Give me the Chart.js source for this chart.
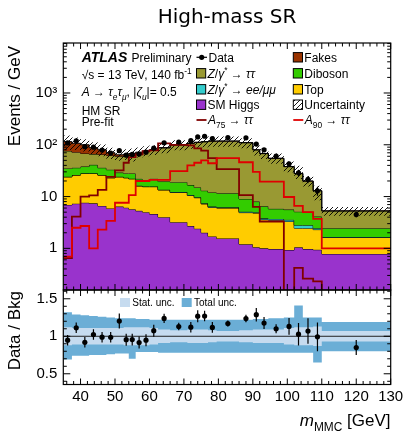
<!DOCTYPE html>
<html>
<head>
<meta charset="utf-8">
<title>High-mass SR</title>
<script src="https://cdn.jsdelivr.net/npm/chart.js"></script>
<style>
  html, body { margin:0; padding:0; background:#ffffff; }
  #wrap { position:relative; width:407px; height:432px; overflow:hidden; background:#fff; }
  #wrap canvas { position:absolute; left:0; top:0; }
</style>
</head>
<body>
<div id="wrap">
  <canvas id="mainCanvas" width="407" height="432"></canvas>
  <canvas id="ratioCanvas" width="407" height="432"></canvas>
</div>
<script>
// ---------------- data (Events / GeV per bin) ----------------
const binEdges = [35, 37.5, 40, 42.5, 45, 47.5, 50, 52.5, 54, 56, 58, 60, 62.5, 66, 71, 73, 75, 77, 79.5, 86, 90, 92, 94.5, 99, 102, 104.5, 107.5, 110, 130];
const smHiggs  = [6.9, 7.3, 7.6, 7.4, 6.6, 5.9, 6.4, 6.1, 5.7, 5.3, 5.0, 4.6, 4.0, 3.2, 2.7, 2.4, 2.0, 1.7, 1.55, 1.2, 1.05, 1.0, 0.97, 0.93, 1.05, 0.97, 0.94, 0.78];
const ttbar    = [17.1, 18.7, 20.4, 20.6, 19.4, 17.1, 17.6, 16.9, 16.3, 10.7, 10.5, 10.9, 9.4, 8.8, 7.8, 7.1, 5.2, 4.5, 4.45, 3.7, 3.75, 2.6, 2.53, 2.37, 1.4, 1.48, 1.36, 0.84];
const zll      = [0.2, 0.2, 0.2, 0.2, 0.2, 0.2, 0.2, 0.2, 0.2, 0.2, 0.2, 0.2, 0.2, 0.2, 0.2, 0.2, 0.2, 0.2, 0.2, 0.2, 0.2, 0.2, 0.2, 0.25, 0.35, 0.35, 0.15, 0.03];
const diboson  = [10.8, 9.8, 9.8, 12.8, 9.8, 9.8, 4.8, 4.8, 5.8, 5.8, 5.3, 6.3, 5.9, 6.8, 6.0, 5.3, 5.6, 5.6, 5.4, 3.9, 3.0, 2.7, 2.1, 2.05, 2.3, 2.3, 1.65, 0.8];
const ztautau  = [41, 36, 30, 25, 29, 29, 31, 34, 36.5, 47, 52.5, 56, 67.5, 80, 89.3, 96, 101, 105, 105.9, 100.5, 71.5, 61, 48.7, 32.2, 22.7, 14.7, 8.8, 2.82];
const fakes    = [39, 35, 32, 22, 15, 8, 4, 4, 3.5, 3, 2.5, 2, 1, 1, 1, 1, 1, 1, 0.5, 0.5, 0.5, 0.5, 0.5, 0.2, 0.2, 0.2, 0.1, 0.03];
const signalA75 = [0.65, 4.1, 10, 10.5, 13.5, 24, 32, 45, 58, 65, 75, 78, 106, 100, 97, 85, 77, 55, 34, 10.7, 6.3, 3.3, 3.3, 0, 0.42, 0.26, 0.23, 0];
const signalA90 = [0.69, 2.5, 2.7, 1.0, 2.3, 3.4, 7.6, 7.6, 10.7, 20, 20, 21, 21, 31, 40, 45, 50, 44, 55, 46, 30, 19.5, 19.5, 9.8, 6.6, 5.0, 3.7, 1.0];
const dataVals = [109, 119, 92, 90, 79, 69, 77, 63, 65, 66, 72, 86, 109, 113, 120, 142, 146, 132, 138, 136, 103, 80, 60.5, 43, 28.8, 21.4, 12.9, 4.5];
const dataErr  = [8, 7.5, 7, 6.2, 5.6, 4.9, 6.4, 5.3, 5.4, 5.8, 6.1, 6.4, 5.3, 5, 7.5, 9, 8, 8.3, 4.7, 5.5, 7.2, 5.4, 3.3, 4.2, 4.2, 3.4, 2.5, 0.53];
// relative background uncertainties
const totUncUp = [0.32, 0.29, 0.28, 0.27, 0.26, 0.25, 0.24, 0.24, 0.24, 0.23, 0.23, 0.22, 0.22, 0.22, 0.22, 0.22, 0.22, 0.22, 0.22, 0.22, 0.23, 0.23, 0.24, 0.25, 0.41, 0.25, 0.25, 0.19];
const totUncDn = [0.31, 0.26, 0.26, 0.25, 0.25, 0.24, 0.23, 0.23, 0.30, 0.21, 0.21, 0.21, 0.22, 0.22, 0.22, 0.22, 0.22, 0.22, 0.22, 0.22, 0.22, 0.22, 0.22, 0.22, 0.22, 0.22, 0.35, 0.20];
const statUnc  = [0.12, 0.11, 0.11, 0.11, 0.11, 0.11, 0.11, 0.12, 0.12, 0.12, 0.12, 0.11, 0.09, 0.08, 0.09, 0.09, 0.09, 0.08, 0.07, 0.08, 0.09, 0.09, 0.09, 0.11, 0.12, 0.12, 0.13, 0.07];
// tick labels
const xTickLabels = [40, 50, 60, 70, 80, 90, 100, 110, 120, 130];
const yMainTickLabels = [1, 10, 100, 1000];
const yMainTickText = {1: '1', 10: '10', 100: '10\u00B2', 1000: '10\u00B3'};
const yRatioTickLabels = [0.5, 1, 1.5];

// ---------------- helpers ----------------
const FONT = '"Liberation Sans", Arial, Helvetica, sans-serif';
const C = {
  higgs: '#9933cc', top: '#ffcc00', zll: '#33cccc', vv: '#33cc00',
  ztt: '#999933', fakes: '#993300', a75: '#800000', a90: '#e00000',
  tot: '#6baed6', stat: '#c6dbef'
};
const nBins = binEdges.length - 1;
const centers = binEdges.slice(0, -1).map((e, i) => (e + binEdges[i + 1]) / 2);
function stepPoints(vals) {
  const pts = vals.map((v, i) => ({x: binEdges[i], y: v}));
  pts.push({x: binEdges[nBins], y: vals[nBins - 1]});
  return pts;
}
const LOGFLOOR = 1e-4; // empty bins drawn below the axis
const layers = [smHiggs, ttbar, zll, diboson, ztautau, fakes];
const cumul = [];
let run = new Array(nBins).fill(0);
layers.forEach(l => { run = run.map((r, i) => r + l[i]); cumul.push(run.slice()); });
const bkgTotal = cumul[cumul.length - 1];
const uncHi = bkgTotal.map((t, i) => t * (1 + totUncUp[i]));
const uncLo = bkgTotal.map((t, i) => t * (1 - totUncDn[i]));
const ratio = dataVals.map((d, i) => d / bkgTotal[i]);
const ratioErr = dataErr.map((e, i) => e / bkgTotal[i]);

function rich(ctx, x, yc, parts, size, measureOnly) {
  let cx = x;
  const base = yc + size * 0.36;
  for (const p of parts) {
    const t = p[0], o = p[1] || {};
    const small = o.sub || o.sup;
    const fs = small ? size * 0.7 : size;
    ctx.font = (o.i ? 'italic ' : '') + (o.b ? 'bold ' : '') + fs + 'px ' + FONT;
    const dy = o.sub ? size * 0.3 : (o.sup ? -size * 0.42 : 0);
    if (!measureOnly) ctx.fillText(t, cx, base + dy);
    cx += ctx.measureText(t).width;
  }
  return cx - x;
}

function drawFrameTicks(chart, yTicks) {
  const {ctx, chartArea: a} = chart;
  const xs = chart.scales.x, ys = chart.scales.y;
  ctx.save();
  ctx.strokeStyle = '#000';
  ctx.lineWidth = 1;
  ctx.beginPath();
  for (let k = 18; k <= 65; k++) {
    const v = k * 2;
    const len = (v % 10 === 0) ? 6 : 3.5;
    const px = xs.getPixelForValue(v);
    ctx.moveTo(px, a.bottom); ctx.lineTo(px, a.bottom - len);
    ctx.moveTo(px, a.top); ctx.lineTo(px, a.top + len);
  }
  for (const t of yTicks) {
    const len = t.major ? 7 : 3.5;
    const py = ys.getPixelForValue(t.v);
    if (py < a.top - 0.5 || py > a.bottom + 0.5) continue;
    ctx.moveTo(a.left, py); ctx.lineTo(a.left + len, py);
    ctx.moveTo(a.right, py); ctx.lineTo(a.right - len, py);
  }
  ctx.stroke();
  ctx.lineWidth = 1.2;
  ctx.strokeRect(a.left, a.top, a.right - a.left, a.bottom - a.top);
  ctx.restore();
}

function vTitle(ctx, text, xc, yTop, size) {
  ctx.save();
  ctx.translate(xc, yTop);
  ctx.rotate(-Math.PI / 2);
  ctx.font = size + 'px ' + FONT;
  ctx.textAlign = 'right';
  ctx.textBaseline = 'middle';
  ctx.fillStyle = '#000';
  ctx.fillText(text, 0, 0);
  ctx.restore();
}

// hatch pattern
const hatchTile = document.createElement('canvas');
hatchTile.width = 5; hatchTile.height = 5;
(function () {
  const g = hatchTile.getContext('2d');
  g.strokeStyle = '#000'; g.lineWidth = 0.9;
  g.beginPath();
  g.moveTo(0, 5); g.lineTo(5, 0);
  g.moveTo(-1, 1); g.lineTo(1, -1);
  g.moveTo(4, 6); g.lineTo(6, 4);
  g.stroke();
})();
const mainCanvas = document.getElementById('mainCanvas');
const hatch = mainCanvas.getContext('2d').createPattern(hatchTile, 'repeat');

// main y ticks
const Y_MIN = 0.157, Y_MAX = 9230;
const mainYTicks = [];
[0.1, 1, 10, 100, 1000].forEach(d => { for (let k = 1; k <= 9; k++) { const v = k * d; if (v >= Y_MIN && v <= Y_MAX) mainYTicks.push({v: v, major: k === 1}); } });
const ratioYTicks = [];
for (let k = 4; k <= 16; k++) ratioYTicks.push({v: k / 10, major: k % 5 === 0});

// legend description
const legendRowsY = [57.3, 73.3, 89.3, 104.7, 120];
const legendItems = [
  {col: 0, row: 0, kind: 'data', parts: [['Data']]},
  {col: 0, row: 1, kind: 'box', color: C.ztt, parts: [['Z', {i: 1}], ['/'], ['\u03B3', {i: 1}], ['*', {sup: 1}], [' \u2192 '], ['\u03C4\u03C4', {i: 1}]]},
  {col: 0, row: 2, kind: 'box', color: C.zll, parts: [['Z', {i: 1}], ['/'], ['\u03B3', {i: 1}], ['*', {sup: 1}], [' \u2192 '], ['ee/\u03BC\u03BC', {i: 1}]]},
  {col: 0, row: 3, kind: 'box', color: C.higgs, parts: [['SM Higgs']]},
  {col: 0, row: 4, kind: 'line', color: C.a75, parts: [['A', {i: 1}], ['75', {sub: 1}], [' \u2192 '], ['\u03C4\u03C4', {i: 1}]]},
  {col: 1, row: 0, kind: 'box', color: C.fakes, parts: [['Fakes']]},
  {col: 1, row: 1, kind: 'box', color: C.vv, parts: [['Diboson']]},
  {col: 1, row: 2, kind: 'box', color: C.top, parts: [['Top']]},
  {col: 1, row: 3, kind: 'hatch', parts: [['Uncertainty']]},
  {col: 1, row: 4, kind: 'line', color: C.a90, parts: [['A', {i: 1}], ['90', {sub: 1}], [' \u2192 '], ['\u03C4\u03C4', {i: 1}]]}
];
const legendColX = [196.5, 293.3];

const mainDecor = {
  id: 'mainDecor',
  afterDatasetsDraw(chart) {
    const {ctx} = chart;
    const xs = chart.scales.x, ys = chart.scales.y;
    // data error bars
    ctx.save();
    ctx.strokeStyle = '#000'; ctx.lineWidth = 1.2;
    ctx.beginPath();
    for (let i = 0; i < nBins; i++) {
      const px = xs.getPixelForValue(centers[i]);
      ctx.moveTo(px, ys.getPixelForValue(dataVals[i] - dataErr[i]));
      ctx.lineTo(px, ys.getPixelForValue(dataVals[i] + dataErr[i]));
    }
    ctx.stroke();
    ctx.restore();
    drawFrameTicks(chart, mainYTicks);
  },
  afterDraw(chart) {
    const {ctx} = chart;
    ctx.save();
    ctx.fillStyle = '#000';
    ctx.textAlign = 'left';
    ctx.textBaseline = 'alphabetic';
    // title
    ctx.font = '20px "DejaVu Sans", sans-serif';
    ctx.textAlign = 'center';
    ctx.fillText('High-mass SR', 227, 23);
    ctx.textAlign = 'left';
    // y title
    vTitle(ctx, 'Events / GeV', 15, 46, 17);
    // ATLAS block
    rich(ctx, 81.7, 57.3, [['ATLAS', {i: 1, b: 1}]], 14);
    rich(ctx, 131.5, 57.3, [['Preliminary']], 12);
    rich(ctx, 81.7, 75, [['\u221As = 13 TeV, 140 fb'], ['-1', {sup: 1}]], 12);
    rich(ctx, 81.7, 91.7, [['A', {i: 1}], [' \u2192 '], ['\u03C4', {i: 1}], ['e', {i: 1, sub: 1}], ['\u03C4', {i: 1}], ['\u03BC', {i: 1, sub: 1}], [', |'], ['\u03B6', {i: 1}], ['u', {i: 1, sub: 1}], ['|= 0.5']], 12);
    rich(ctx, 81.7, 110.7, [['HM SR']], 12);
    rich(ctx, 81.7, 121.7, [['Pre-fit']], 12);
    // legend
    legendItems.forEach(it => {
      const x0 = legendColX[it.col];
      const yc = legendRowsY[it.row];
      let tx;
      if (it.kind === 'data') {
        ctx.strokeStyle = '#000'; ctx.lineWidth = 1.2;
        ctx.beginPath(); ctx.moveTo(x0, yc); ctx.lineTo(x0 + 10.5, yc); ctx.stroke();
        ctx.beginPath(); ctx.arc(x0 + 5.2, yc, 2.6, 0, Math.PI * 2); ctx.fill();
        tx = x0 + 12;
      } else if (it.kind === 'line') {
        ctx.strokeStyle = it.color; ctx.lineWidth = 1.8;
        ctx.beginPath(); ctx.moveTo(x0, yc); ctx.lineTo(x0 + 10, yc); ctx.stroke();
        tx = x0 + 11.5;
      } else {
        ctx.fillStyle = it.kind === 'hatch' ? hatch : it.color;
        ctx.fillRect(x0, yc - 4.7, 9.2, 9.4);
        ctx.strokeStyle = '#000'; ctx.lineWidth = 1;
        ctx.strokeRect(x0, yc - 4.7, 9.2, 9.4);
        tx = x0 + 11;
      }
      ctx.fillStyle = '#000';
      rich(ctx, tx, yc, it.parts, 12);
    });
    ctx.restore();
  }
};

const ratioDecor = {
  id: 'ratioDecor',
  afterDatasetsDraw(chart) {
    const {ctx} = chart;
    const xs = chart.scales.x, ys = chart.scales.y;
    ctx.save();
    ctx.strokeStyle = '#000'; ctx.lineWidth = 1.2;
    ctx.beginPath();
    for (let i = 0; i < nBins; i++) {
      const px = xs.getPixelForValue(centers[i]);
      ctx.moveTo(px, ys.getPixelForValue(ratio[i] - ratioErr[i]));
      ctx.lineTo(px, ys.getPixelForValue(ratio[i] + ratioErr[i]));
    }
    ctx.stroke();
    ctx.restore();
    drawFrameTicks(chart, ratioYTicks);
  },
  afterDraw(chart) {
    const {ctx} = chart;
    ctx.save();
    ctx.textAlign = 'left';
    ctx.textBaseline = 'alphabetic';
    // legend
    ctx.fillStyle = C.stat; ctx.fillRect(120, 298, 10, 9);
    ctx.fillStyle = C.tot; ctx.fillRect(181.7, 298, 10, 9);
    ctx.fillStyle = '#000';
    rich(ctx, 132.3, 302.5, [['Stat. unc.']], 10);
    rich(ctx, 194, 302.5, [['Total unc.']], 10);
    // y title
    vTitle(ctx, 'Data / Bkg', 15, 291, 17);
    // x title
    const xParts = [['m', {i: 1}], ['MMC', {sub: 1}], [' [GeV]']];
    const w = rich(ctx, 0, 0, xParts, 17, true);
    rich(ctx, 390.5 - w, 420, xParts, 17);
    ctx.restore();
  }
};

// ---------------- main chart ----------------
const layerColors = [C.higgs, C.top, C.zll, C.vv, C.ztt, C.fakes];
const layerNames = ['SM Higgs', 'Top', 'Zee/mumu', 'Diboson', 'Ztautau', 'Fakes'];
const layerDatasets = [];
for (let k = cumul.length - 1; k >= 0; k--) {
  const idx = 5 + (cumul.length - 1 - k); // dataset index
  layerDatasets.push({
    label: layerNames[k],
    data: stepPoints(cumul[k]),
    stepped: true,
    borderColor: '#000',
    borderWidth: 1,
    backgroundColor: layerColors[k],
    fill: k === 0 ? 'start' : idx + 1,
    pointRadius: 0
  });
}

new Chart(mainCanvas, {
  type: 'line',
  data: {
    datasets: [
      {label: 'Data', data: centers.map((c, i) => ({x: c, y: dataVals[i]})), showLine: false,
       pointRadius: 2.6, pointBackgroundColor: '#000', pointBorderColor: '#000', pointBorderWidth: 0},
      {label: 'A90', data: stepPoints(signalA90.map(v => v > 0 ? v : LOGFLOOR)), stepped: true,
       borderColor: C.a90, borderWidth: 1.8, fill: false, pointRadius: 0},
      {label: 'A75', data: stepPoints(signalA75.map(v => v > 0 ? v : LOGFLOOR)), stepped: true,
       borderColor: C.a75, borderWidth: 1.8, fill: false, pointRadius: 0},
      {label: 'UncHi', data: stepPoints(uncHi), stepped: true, borderWidth: 0, borderColor: 'rgba(0,0,0,0)',
       backgroundColor: hatch, fill: 4, pointRadius: 0},
      {label: 'UncLo', data: stepPoints(uncLo), stepped: true, borderWidth: 0, borderColor: 'rgba(0,0,0,0)',
       fill: false, pointRadius: 0},
      ...layerDatasets
    ]
  },
  options: {
    responsive: false, animation: false, devicePixelRatio: 1,
    layout: {padding: {left: 0, top: 43, right: 16.3, bottom: 142}},
    plugins: {legend: {display: false}, tooltip: {enabled: false}, filler: {propagate: false}},
    elements: {line: {tension: 0}},
    scales: {
      x: {type: 'linear', min: 35, max: 130, bounds: 'data', display: false},
      y: {
        type: 'logarithmic', min: Y_MIN, max: Y_MAX, bounds: 'data',
        afterFit(s) { s.width = 63.3; },
        afterBuildTicks(s) { s.ticks = yMainTickLabels.map(v => ({value: v})); },
        grid: {display: false, drawTicks: false},
        border: {display: false},
        ticks: {font: {family: FONT, size: 15}, color: '#000', padding: 6,
                callback: v => yMainTickText[v] || ''}
      }
    }
  },
  plugins: [mainDecor]
});

// ---------------- ratio chart ----------------
new Chart(document.getElementById('ratioCanvas'), {
  type: 'line',
  data: {
    datasets: [
      {label: 'Data/Bkg', data: centers.map((c, i) => ({x: c, y: ratio[i]})), showLine: false,
       pointRadius: 2.6, pointBackgroundColor: '#000', pointBorderColor: '#000', pointBorderWidth: 0},
      {label: 'unity', data: [{x: 35, y: 1}, {x: 130, y: 1}], borderColor: '#222', borderWidth: 1, fill: false, pointRadius: 0},
      {label: 'StatHi', data: stepPoints(statUnc.map(s => 1 + s)), stepped: true, borderWidth: 0,
       borderColor: 'rgba(0,0,0,0)', backgroundColor: C.stat, fill: 3, pointRadius: 0},
      {label: 'StatLo', data: stepPoints(statUnc.map(s => 1 - s)), stepped: true, borderWidth: 0,
       borderColor: 'rgba(0,0,0,0)', fill: false, pointRadius: 0},
      {label: 'TotHi', data: stepPoints(totUncUp.map(s => 1 + s)), stepped: true, borderWidth: 0,
       borderColor: 'rgba(0,0,0,0)', backgroundColor: C.tot, fill: 5, pointRadius: 0},
      {label: 'TotLo', data: stepPoints(totUncDn.map(s => 1 - s)), stepped: true, borderWidth: 0,
       borderColor: 'rgba(0,0,0,0)', fill: false, pointRadius: 0}
    ]
  },
  options: {
    responsive: false, animation: false, devicePixelRatio: 1,
    layout: {padding: {left: 0, top: 290, right: 16.3, bottom: 0}},
    plugins: {legend: {display: false}, tooltip: {enabled: false}, filler: {propagate: false}},
    elements: {line: {tension: 0}},
    scales: {
      x: {
        type: 'linear', min: 35, max: 130, bounds: 'data',
        afterFit(s) { s.height = 47.5; },
        afterBuildTicks(s) { s.ticks = xTickLabels.map(v => ({value: v})); },
        grid: {display: false, drawTicks: false}, border: {display: false},
        ticks: {font: {family: FONT, size: 15}, color: '#000', padding: 3.5, maxRotation: 0, autoSkip: false,
                callback: v => String(v)}
      },
      y: {
        type: 'linear', min: 0.357, max: 1.617, bounds: 'data',
        afterFit(s) { s.width = 63.3; },
        afterBuildTicks(s) { s.ticks = yRatioTickLabels.map(v => ({value: v})); },
        grid: {display: false, drawTicks: false}, border: {display: false},
        ticks: {font: {family: FONT, size: 15}, color: '#000', padding: 6, callback: v => String(v)}
      }
    }
  },
  plugins: [ratioDecor]
});
</script>
</body>
</html>
